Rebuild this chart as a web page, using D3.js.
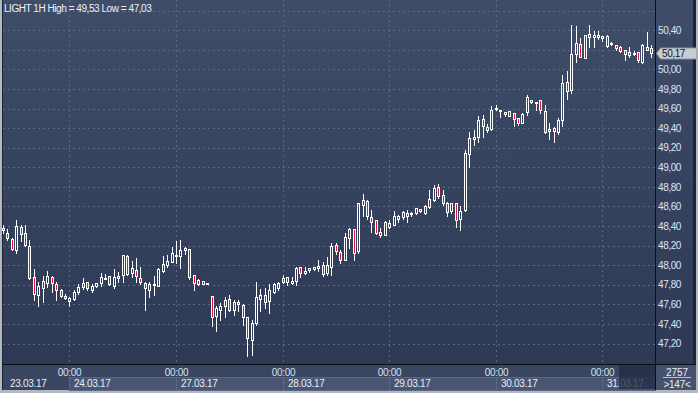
<!DOCTYPE html>
<html>
<head>
<meta charset="utf-8">
<script src="https://cdn.jsdelivr.net/npm/d3@7"></script>
<style>
  body { margin: 0; background: #fff; }
  svg { display: block; }
  text { font-family: "Liberation Sans", Arial, sans-serif; }
</style>
</head>
<body>
<svg id="chart"></svg>
<script>
// -------- Data (hourly candles, LIGHT 1H) --------
const opens = [
  48.36,48.33,48.27,48.16,48.39,48.33,48.20,47.88,47.70,47.77,47.82,47.88,47.81,47.75,47.69,
  47.63,47.65,47.73,47.78,47.83,47.75,47.79,47.82,47.86,47.89,47.79,47.87,47.90,48.09,47.92,
  47.95,47.87,47.82,47.75,47.80,47.79,47.94,48.00,48.03,48.10,48.09,48.18,48.17,47.90,47.85,
  47.81,47.82,47.69,47.48,47.54,47.58,47.65,47.54,47.62,47.59,47.47,47.24,47.41,47.65,47.70,
  47.63,47.73,47.77,47.83,47.88,47.82,47.84,47.98,47.92,47.95,47.96,47.97,48.00,47.92,47.98,
  48.21,48.13,48.05,48.28,48.37,48.14,48.61,48.66,48.49,48.46,48.34,48.31,48.43,48.41,48.47,
  48.49,48.53,48.53,48.53,48.57,48.53,48.59,48.67,48.80,48.72,48.63,48.55,48.63,48.47,48.56,
  49.14,49.29,49.31,49.49,49.41,49.39,49.60,49.59,49.56,49.52,49.55,49.50,49.45,49.56,49.69,
  49.66,49.69,49.57,49.37,49.40,49.36,49.48,49.87,49.79,50.16,50.26,50.12,50.36,50.33,50.33,
  50.34,50.34,50.26,50.25,50.23,50.20,50.15,50.17,50.18,50.08,50.20,50.22
];
const highs = [
  48.41,48.37,48.28,48.46,48.41,48.41,48.26,47.96,47.83,47.89,47.94,47.89,47.83,47.76,47.71,
  47.68,47.75,47.81,47.87,47.83,47.81,47.82,47.92,47.91,47.89,47.96,47.93,48.10,48.10,48.04,
  48.07,47.98,47.83,47.83,47.89,47.97,48.09,48.10,48.19,48.25,48.26,48.19,48.17,47.90,47.86,
  47.84,47.82,47.69,47.58,47.61,47.68,47.70,47.64,47.64,47.60,47.47,47.44,47.83,47.76,47.77,
  47.81,47.82,47.83,47.90,47.88,47.88,47.98,47.98,47.98,47.97,47.98,48.05,48.03,48.08,48.23,
  48.23,48.16,48.33,48.38,48.37,48.64,48.73,48.67,48.56,48.46,48.38,48.45,48.46,48.55,48.51,
  48.55,48.56,48.54,48.58,48.57,48.61,48.77,48.82,48.83,48.77,48.65,48.63,48.63,48.60,49.18,
  49.36,49.38,49.52,49.53,49.44,49.63,49.64,49.59,49.56,49.57,49.55,49.50,49.55,49.74,49.69,
  49.67,49.69,49.64,49.45,49.41,49.50,49.94,49.98,50.45,50.44,50.32,50.35,50.45,50.39,50.39,
  50.34,50.35,50.28,50.25,50.24,50.20,50.23,50.19,50.18,50.26,50.38,50.25
];
const lows = [
  48.33,48.26,48.15,48.12,48.25,48.20,47.86,47.64,47.58,47.62,47.78,47.73,47.64,47.67,47.65,
  47.58,47.64,47.71,47.76,47.75,47.73,47.78,47.79,47.86,47.80,47.77,47.83,47.83,47.90,47.88,
  47.83,47.81,47.54,47.67,47.70,47.79,47.93,47.98,48.03,48.02,47.97,48.11,47.86,47.75,47.80,
  47.81,47.82,47.38,47.33,47.44,47.47,47.53,47.49,47.53,47.39,47.07,47.08,47.39,47.53,47.56,
  47.51,47.72,47.75,47.82,47.80,47.81,47.80,47.88,47.91,47.93,47.95,47.94,47.89,47.90,47.90,
  48.11,48.02,48.05,48.18,48.05,48.12,48.50,48.47,48.34,48.32,48.29,48.31,48.38,48.41,48.44,
  48.47,48.44,48.50,48.52,48.54,48.52,48.58,48.66,48.69,48.61,48.50,48.53,48.39,48.36,48.55,
  49.00,49.23,49.26,49.31,49.36,49.38,49.59,49.51,49.52,49.52,49.42,49.43,49.45,49.53,49.66,
  49.58,49.55,49.35,49.29,49.26,49.34,49.42,49.70,49.76,50.08,50.13,50.12,50.23,50.23,50.31,
  50.29,50.23,50.25,50.20,50.18,50.10,50.13,50.15,50.08,50.06,50.20,50.13
];
const closes = [
  48.38,48.28,48.17,48.40,48.32,48.21,47.87,47.71,47.79,47.84,47.89,47.82,47.75,47.69,47.66,
  47.66,47.73,47.78,47.82,47.77,47.79,47.82,47.88,47.87,47.81,47.88,47.89,48.10,47.91,47.97,
  47.89,47.83,47.77,47.81,47.81,47.96,48.01,48.04,48.12,48.10,48.16,48.15,47.88,47.82,47.81,
  47.84,47.82,47.47,47.56,47.58,47.64,47.54,47.62,47.60,47.47,47.26,47.41,47.67,47.70,47.62,
  47.75,47.81,47.82,47.87,47.83,47.84,47.97,47.92,47.94,47.97,47.98,47.99,47.91,48.00,48.20,
  48.14,48.05,48.29,48.37,48.12,48.63,48.67,48.50,48.44,48.33,48.31,48.44,48.39,48.50,48.50,
  48.54,48.50,48.53,48.58,48.55,48.60,48.68,48.79,48.71,48.63,48.54,48.63,48.46,48.55,49.15,
  49.30,49.31,49.48,49.42,49.38,49.59,49.61,49.57,49.54,49.57,49.49,49.45,49.54,49.72,49.67,
  49.67,49.58,49.36,49.39,49.37,49.48,49.86,49.78,50.16,50.27,50.13,50.35,50.33,50.35,50.35,
  50.32,50.24,50.27,50.22,50.19,50.16,50.18,50.17,50.10,50.25,50.23,50.17
];

// candle index of each 00:00 and the day it opens
const dayStarts = [-9, 15, 39, 63, 87, 111, 135];
const dayLabels = ['23.03.17', '24.03.17', '27.03.17', '28.03.17', '29.03.17', '30.03.17', '31.03.17'];

// 50,20 sits under the last-price marker, so it carries no label
const yTicks = [47.2, 47.4, 47.6, 47.8, 48.0, 48.2, 48.4, 48.6, 48.8, 49.0, 49.2, 49.4, 49.6, 49.8, 50.0, 50.4];
const yGrid  = [47.2, 47.4, 47.6, 47.8, 48.0, 48.2, 48.4, 48.6, 48.8, 49.0, 49.2, 49.4, 49.6, 49.8, 50.0, 50.2, 50.4, 50.6];

const title = 'LIGHT 1H High = 49,53 Low = 47,03';
const barCount = '2757';
const visibleBars = '>147<';

// -------- Dimensions --------
const dims = { width: 698, height: 393 };
const plot = { left: 3, right: 655, top: 0, bottom: 364 };

const svg = d3.select('#chart')
  .attr('width', dims.width)
  .attr('height', dims.height);

// -------- Scales --------
const x = d3.scaleLinear().domain([0, opens.length - 1]).range([2.8, 651.3]);
const y = d3.scaleLinear().domain([47.2, 50.4]).range([343.5, 30.2]);
const fmt = v => d3.format('.2f')(v).replace('.', ',');

// -------- Frame & backgrounds --------
const defs = svg.append('defs');
const grad = defs.append('linearGradient').attr('id', 'bg').attr('x1', 0).attr('y1', 0).attr('x2', 0).attr('y2', 1);
grad.append('stop').attr('offset', '0%').attr('stop-color', '#3f4d69');
grad.append('stop').attr('offset', '100%').attr('stop-color', '#2d3955');

svg.append('rect').attr('width', dims.width).attr('height', dims.height).attr('fill', '#b3b9c4');
svg.append('rect').attr('x', 2).attr('y', 0).attr('width', 694).attr('height', 390).attr('fill', '#1d2435');
svg.append('rect').attr('x', plot.left).attr('y', 0).attr('width', 693 - plot.left).attr('height', plot.bottom)
  .attr('fill', 'url(#bg)');
// x-axis strip
svg.append('rect').attr('x', plot.left).attr('y', plot.bottom + 1).attr('width', plot.right - plot.left)
  .attr('height', 390 - plot.bottom - 1).attr('fill', '#3a4660');
svg.append('rect').attr('x', plot.right + 1).attr('y', plot.bottom + 1).attr('width', 696 - plot.right - 1)
  .attr('height', 390 - plot.bottom - 1).attr('fill', '#46526c');

// -------- Grid --------
const grid = svg.append('g').attr('stroke', '#5a6884').attr('stroke-dasharray', '2,3').attr('stroke-width', 1);
grid.selectAll('line.h')
  .data(yGrid)
  .join('line')
    .attr('class', 'h')
    .attr('x1', plot.left).attr('x2', plot.right)
    .attr('y1', d => Math.round(y(d)) + 0.5)
    .attr('y2', d => Math.round(y(d)) + 0.5);
grid.selectAll('line.v')
  .data(dayStarts.filter(d => d >= 0))
  .join('line')
    .attr('class', 'v')
    .attr('y1', 0).attr('y2', plot.bottom)
    .attr('x1', d => Math.round(x(d)) + 0.5)
    .attr('x2', d => Math.round(x(d)) + 0.5);

// -------- Candles --------
const candles = d3.range(opens.length).map(i => ({
  o: opens[i], h: highs[i], l: lows[i], c: closes[i], i
}));

const cg = svg.append('g');
candles.forEach(d => {
  const cx = Math.round(x(d.i));
  const top = Math.round(y(Math.max(d.o, d.c)));
  const bot = Math.round(y(Math.min(d.o, d.c)));
  const yh = Math.round(y(d.h));
  const yl = Math.round(y(d.l));
  const bh = Math.max(1, bot - top);
  // wicks stop at the body so hollow candles stay empty
  if (top > yh) cg.append('rect').attr('x', cx).attr('y', yh).attr('width', 1).attr('height', top - yh).attr('fill', '#fff');
  if (yl > top + bh) cg.append('rect').attr('x', cx).attr('y', top + bh + 1).attr('width', 1).attr('height', yl - top - bh).attr('fill', '#fff');
  cg.append('rect')
    .attr('x', cx - 0.5).attr('y', top + 0.5)
    .attr('width', 2).attr('height', bh)
    .attr('fill', d.c < d.o ? '#e3123c' : 'none')
    .attr('stroke', '#fff').attr('stroke-width', 1);
});

// -------- Title --------
svg.append('text')
  .attr('x', 4).attr('y', 12)
  .attr('font-size', 10).attr('letter-spacing', -0.45)
  .attr('fill', '#eef2f8')
  .text(title);

// -------- Y axis --------
const yAxis = svg.append('g')
  .attr('transform', `translate(${plot.right},0)`)
  .call(d3.axisRight(y).tickValues(yTicks).tickFormat(fmt).tickSize(0).tickPadding(3));
yAxis.select('.domain').remove();
yAxis.selectAll('text')
  .attr('font-family', '"Liberation Sans", Arial, sans-serif')
  .attr('font-size', 10).attr('letter-spacing', -0.4)
  .attr('fill', '#dbe5f4');

// -------- X axis (day boxes) --------
const xg = svg.append('g');
const boxes = dayStarts.map((d, k) => ({
  start: d, label: dayLabels[k],
  x0: Math.max(plot.left, Math.round(x(d))),
  x1: k < dayStarts.length - 1 ? Math.round(x(dayStarts[k + 1])) : plot.right
}));
xg.selectAll('rect.day')
  .data(boxes.filter(b => b.start >= 0))
  .join('rect')
    .attr('class', 'day')
    .attr('x', b => b.x0 + 0.5).attr('y', 377.5)
    .attr('width', b => b.x1 - b.x0).attr('height', 13)
    .attr('fill', '#4a5671').attr('stroke', '#5b6883');
xg.selectAll('text.day')
  .data(boxes)
  .join('text')
    .attr('class', 'day')
    .attr('x', b => b.start >= 0 ? b.x0 + 5 : 10).attr('y', 387)
    .attr('font-size', 10).attr('letter-spacing', -0.3)
    .attr('fill', '#e8eef8')
    .text(b => b.label);
xg.selectAll('text.hour')
  .data(boxes.filter(b => b.start >= 0))
  .join('text')
    .attr('class', 'hour')
    .attr('x', b => b.x0 + 0.5).attr('y', 375.5)
    .attr('text-anchor', 'middle')
    .attr('font-size', 10).attr('letter-spacing', -0.3)
    .attr('fill', '#cfe0f6')
    .text('00:00');
// scroll shade over the newest day label
xg.append('rect')
  .attr('x', 619).attr('y', plot.bottom + 1).attr('width', plot.right - 619).attr('height', 24)
  .attr('fill', '#222c44').attr('opacity', 0.78);

// -------- Separator lines --------
svg.append('rect').attr('x', 2).attr('y', plot.bottom).attr('width', 694).attr('height', 1).attr('fill', '#0b0f18');
svg.append('rect').attr('x', plot.right).attr('y', 0).attr('width', 1).attr('height', 390).attr('fill', '#0b0f18');

// -------- Bar counter --------
svg.append('text').attr('x', 677).attr('y', 375.5).attr('text-anchor', 'middle')
  .attr('font-size', 10).attr('fill', '#e8eef8').text(barCount);
svg.append('rect').attr('x', 663).attr('y', 377).attr('width', 28).attr('height', 1).attr('fill', '#b9c0cc');
svg.append('text').attr('x', 677).attr('y', 388).attr('text-anchor', 'middle')
  .attr('font-size', 10).attr('letter-spacing', -0.3).attr('fill', '#e8eef8').text(visibleBars);

// -------- Last price marker --------
const last = closes[closes.length - 1];
const ly = Math.round(y(last));
svg.append('path')
  .attr('d', `M${plot.right + 1.5},${ly + 0.5} L${plot.right + 5.5},${ly - 5} L697,${ly - 5} L697,${ly + 6} L${plot.right + 5.5},${ly + 6} Z`)
  .attr('fill', '#c7cbd3').attr('stroke', '#8d939e');
svg.append('text')
  .attr('x', 662).attr('y', ly + 4)
  .attr('font-size', 10).attr('letter-spacing', -0.4)
  .attr('fill', '#121a28')
  .text(fmt(last));
</script>
</body>
</html>
